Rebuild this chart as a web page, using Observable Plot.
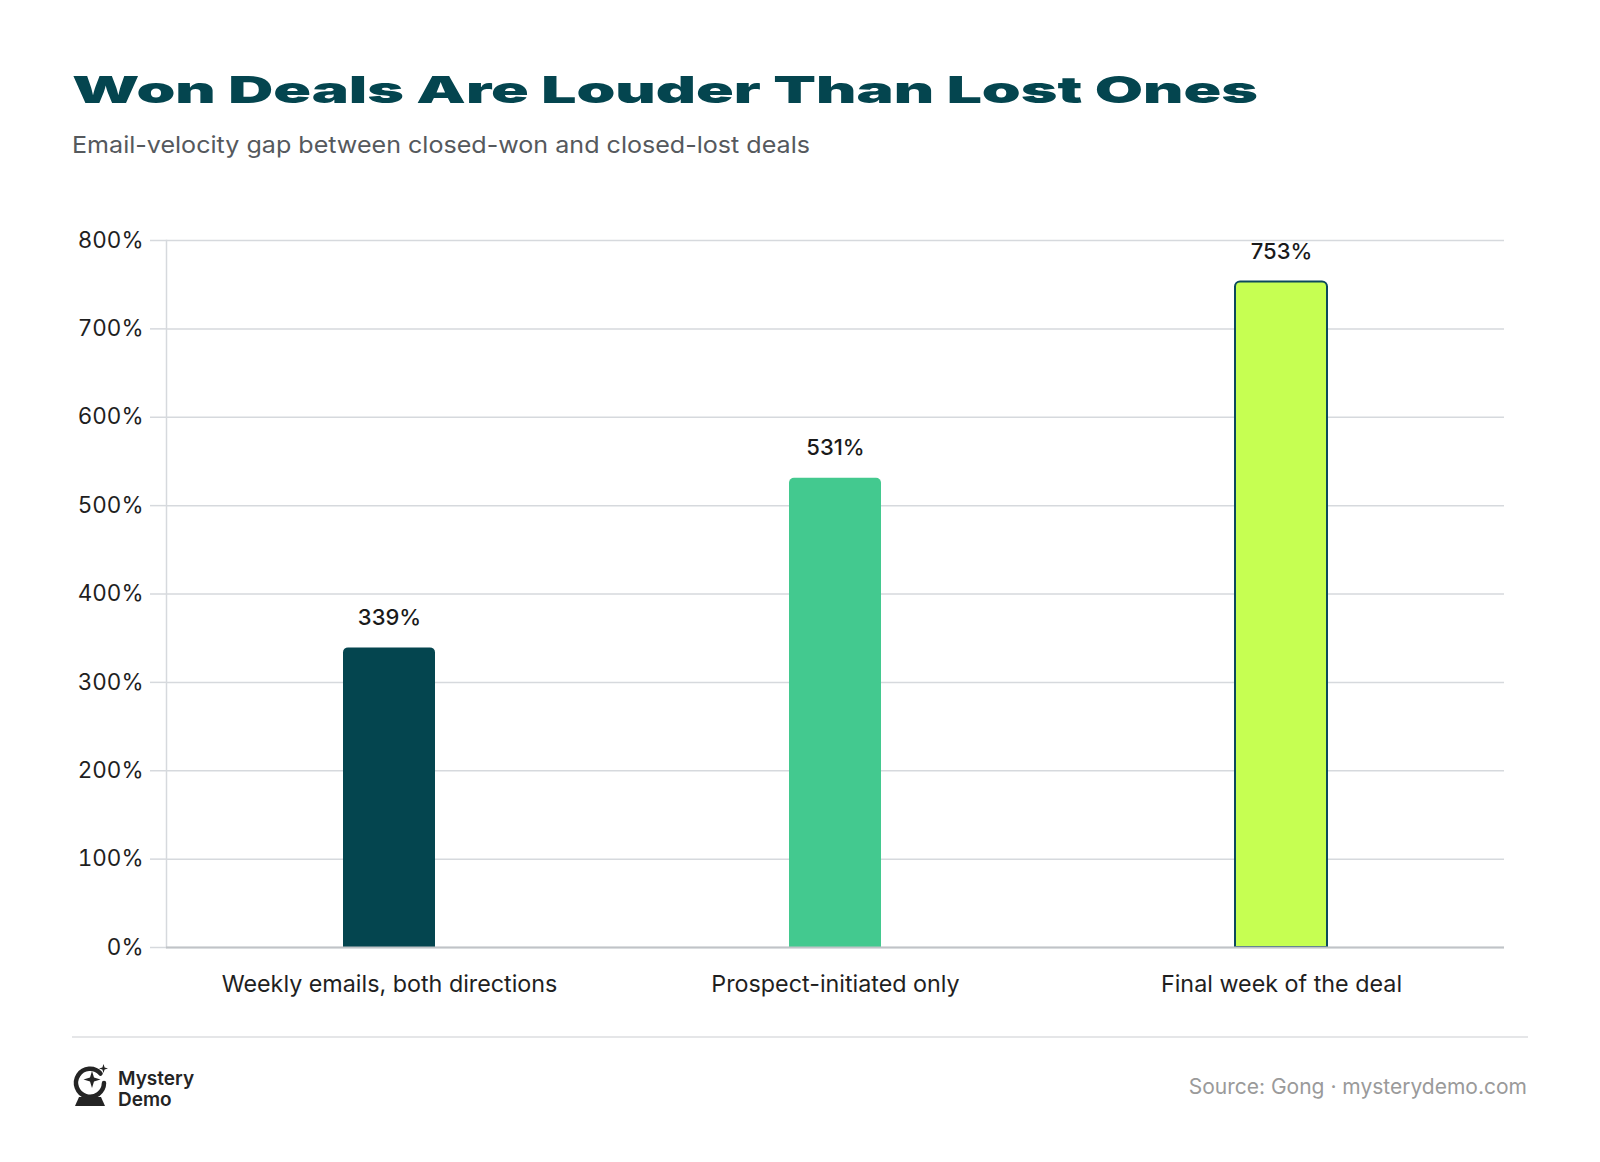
<!DOCTYPE html>
<html>
<head>
<meta charset="utf-8">
<script src="https://cdn.jsdelivr.net/npm/d3@7"></script>
<script src="https://cdn.jsdelivr.net/npm/@observablehq/plot@0.6"></script>
<style>
  html, body { margin: 0; padding: 0; background: #ffffff; }
  #page { position: relative; width: 1600px; height: 1162px; overflow: hidden; font-family: Inter, "Noto Sans", sans-serif; }
  #header, #footer { position: absolute; left: 0; }
  #header { top: 0; }
  #chart { position: absolute; left: 0; top: 200px; }
</style>
</head>
<body>
<div id="page">
  <svg id="header" width="1600" height="180">
    <text x="72" y="103" textLength="1186" lengthAdjust="spacingAndGlyphs"
          font-family="Inter, sans-serif" font-weight="900" font-size="37" fill="#04454F">Won Deals Are Louder Than Lost Ones</text>
    <text x="72" y="153" textLength="738" lengthAdjust="spacingAndGlyphs" font-family="Inter, sans-serif" font-size="23.5" fill="#55595d">Email-velocity gap between closed-won and closed-lost deals</text>
  </svg>
  <div id="chart"></div>
  <svg id="footer" width="1600" height="1162" style="top:0;pointer-events:none">
    <line x1="72" x2="1528" y1="1037" y2="1037" stroke="#dcdee0" stroke-width="1.5"/>
    <!-- crystal-ball logo mark -->
    <g fill="#242424" stroke="none">
      <path d="M100.5 1073.5 A14 14 0 1 0 104 1083" fill="none" stroke="#242424" stroke-width="4.5" stroke-linecap="round"/>
      <path d="M92 1071 L94 1077.5 L100.5 1079.5 L94 1081.5 L92 1088 L90 1081.5 L83.5 1079.5 L90 1077.5 Z"/>
      <path d="M103.5 1064 L104.6 1067.4 L108 1068.5 L104.6 1069.6 L103.5 1073 L102.4 1069.6 L99 1068.5 L102.4 1067.4 Z"/>
      <path d="M79 1097 L101 1097 L105 1106 L75 1106 Z"/>
    </g>
    <text x="118" y="1085" font-family="Inter, sans-serif" font-weight="600" font-size="19" fill="#242424">Mystery</text>
    <text x="118" y="1106" font-family="Inter, sans-serif" font-weight="600" font-size="19" fill="#242424">Demo</text>
    <text x="1527" y="1094" text-anchor="end" font-family="Inter, sans-serif" font-size="21" fill="#9a9a9a">Source: Gong · mysterydemo.com</text>
  </svg>
</div>
<script>
// Email-velocity gap (closed-won vs closed-lost), in percent
const categories = ["Weekly emails, both directions", "Prospect-initiated only", "Final week of the deal"];
const gapPct = [339, 531, 753];
const barFills = ["#04454F", "#43C98F", "#C6FF52"];
const barStrokes = ["none", "none", "#0B4A5C"];
const yTicks = [0, 100, 200, 300, 400, 500, 600, 700, 800];

const rows = categories.map((category, i) => ({
  category,
  value: gapPct[i],
  fill: barFills[i],
  stroke: barStrokes[i]
}));

const gridColor = "#d6d9dd";

const chart = Plot.plot({
  width: 1600,
  height: 820,
  marginTop: 40,
  marginBottom: 73,
  marginLeft: 166,
  marginRight: 96,
  style: { fontFamily: "Inter, sans-serif", color: "#1f1f1f", background: "transparent", overflow: "visible" },
  x: { domain: categories, paddingInner: 0.794, paddingOuter: 0.397, label: null },
  y: { domain: [0, 800], label: null },
  color: { type: "identity" },
  marks: [
    Plot.gridY(yTicks, { stroke: gridColor, strokeOpacity: 1, strokeWidth: 1.5 }),
    Plot.frame({ anchor: "left", stroke: gridColor, strokeWidth: 1.5 }),
    Plot.axisY(yTicks, {
      tickSize: 16, tickPadding: 7, stroke: gridColor, strokeWidth: 1.5, strokeOpacity: 1,
      tickFormat: d => `${d}%`, fontSize: 22.5, fill: "#1f1f1f", label: null
    }),
    Plot.axisX({ tickSize: 0, tickPadding: 28, fontSize: 23.3, fill: "#1f1f1f", label: null }),
    Plot.barY(rows, {
      x: "category", y: "value", fill: "fill", stroke: "stroke", strokeWidth: 2, ry1: 5
    }),
    Plot.ruleY([0], { stroke: "#c0c3c7", strokeWidth: 2 }),
    Plot.text(rows, {
      x: "category", y: "value", text: d => `${d.value}%`, dy: -30,
      fontSize: 22, fontWeight: 500, fill: "#1a1a1a"
    })
  ]
});

document.getElementById("chart").appendChild(chart);
</script>
</body>
</html>
